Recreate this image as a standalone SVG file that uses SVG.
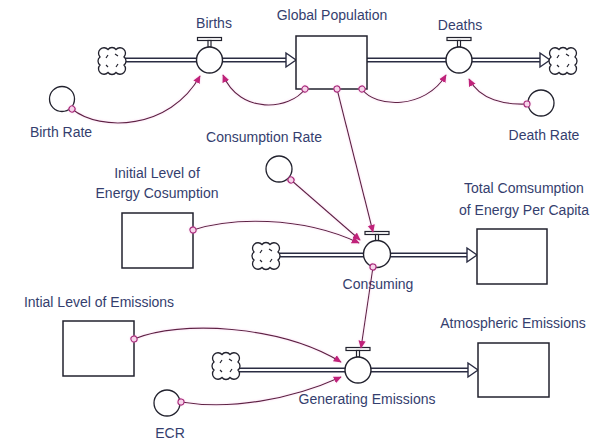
<svg xmlns="http://www.w3.org/2000/svg" xmlns:xlink="http://www.w3.org/1999/xlink" width="592" height="441" viewBox="0 0 592 441">
<style>
.lbl{font-family:"Liberation Sans",Arial,sans-serif;font-size:14px;fill:#343e6e;text-anchor:middle}
.stock{fill:#fff;stroke:#22222e;stroke-width:1.5}
.aux{fill:#fff;stroke:#22222e;stroke-width:1.3}
.valve{fill:#fff;stroke:#22222e;stroke-width:1.4}
.pipeo{stroke:#2a2c42;stroke-width:5;fill:none}
.pipei{stroke:#fff;stroke-width:2;fill:none}
.phead{fill:#fff;stroke:#2a2c42;stroke-width:1.4}
.link{fill:none;stroke:#5e2444;stroke-width:1.1;marker-start:url(#dot);marker-end:url(#arr)}
.cl{fill:#fff;stroke:#22222e;stroke-width:1.3}
</style>
<defs>
<filter id="glow" x="-10%" y="-10%" width="120%" height="120%">
<feGaussianBlur in="SourceAlpha" stdDeviation="1.2" result="b"/>
<feFlood flood-color="#f38ad4" flood-opacity="0.4"/>
<feComposite in2="b" operator="in" result="g"/>
<feMerge><feMergeNode in="g"/><feMergeNode in="SourceGraphic"/></feMerge>
</filter>
<marker id="arr" viewBox="0 0 10 10" refX="9" refY="5" markerWidth="8" markerHeight="8" markerUnits="userSpaceOnUse" orient="auto"><path d="M0,0.5 L10,5 L0,9.5 Z" fill="#c0207a"/></marker>
<marker id="dot" viewBox="0 0 10 10" refX="5" refY="5" markerWidth="8" markerHeight="8" markerUnits="userSpaceOnUse" orient="auto"><circle cx="5" cy="5" r="3.8" fill="#f6d4ea" stroke="#a8287a" stroke-width="1.4"/></marker>
<g id="cloud">
<path class="cl" d="M-12,-4 A5,5 0 0 1 -4,-11.5 A5,5 0 0 1 4,-11.5 A5,5 0 0 1 12,-4 A5,5 0 0 1 12,4 A5,5 0 0 1 4,11.5 A5,5 0 0 1 -4,11.5 A5,5 0 0 1 -12,4 A5,5 0 0 1 -12,-4 Z"/>
<path d="M-6,-3 l2,-3 M3,-7 l3,2 M6,3 l-2,3 M-4,6 l-2,-2" stroke="#22222e" stroke-width="1.2" fill="none"/>
</g>
<g id="valvebar">
<rect x="-12" y="-22.5" width="24" height="3" fill="#fff" stroke="#22222e" stroke-width="1.2"/>
<rect x="-1.5" y="-19.5" width="3" height="6.5" fill="#fff" stroke="#22222e" stroke-width="1.2"/>
</g>
</defs>
<rect width="592" height="441" fill="#fff"/>

<g id="pipes">
<path class="pipeo" d="M124,60 H197 M222,60 H287 M367,60 H446 M472,60 H541"/>
<path class="pipei" d="M124,60 H197 M222,60 H287 M367,60 H446 M472,60 H541"/>
<polygon class="phead" points="286,53 296,60 286,67"/>
<polygon class="phead" points="540,53 550,60 540,67"/>
<path class="pipeo" d="M278,255 H364 M390,255 H468"/>
<path class="pipei" d="M278,255 H364 M390,255 H468"/>
<polygon class="phead" points="467,248 477,255 467,262"/>
<path class="pipeo" d="M237,370 H345 M371,370 H469"/>
<path class="pipei" d="M237,370 H345 M371,370 H469"/>
<polygon class="phead" points="468,363 478,370 468,377"/>
</g>

<g id="cloud-births"><use href="#cloud" x="112" y="61"/></g>
<g id="cloud-deaths"><use href="#cloud" x="563" y="61"/></g>
<g id="cloud-consuming"><use href="#cloud" x="266" y="256"/></g>
<g id="cloud-emissions"><use href="#cloud" x="226" y="366"/></g>

<g id="births">
<use href="#valvebar" x="209.5" y="60"/>
<circle class="valve" cx="209.5" cy="60" r="13"/>
<text class="lbl" x="214" y="28">Births</text>
</g>
<g id="global-population">
<rect class="stock" x="296" y="36" width="71" height="53"/>
<text class="lbl" x="332" y="20">Global Population</text>
</g>
<g id="deaths">
<use href="#valvebar" x="459" y="60"/>
<circle class="valve" cx="459" cy="60" r="13"/>
<text class="lbl" x="460" y="30">Deaths</text>
</g>
<g id="birth-rate">
<circle class="aux" cx="62" cy="99" r="12.5"/>
<text class="lbl" x="61" y="137">Birth Rate</text>
</g>
<g id="death-rate">
<circle class="aux" cx="541" cy="103" r="13"/>
<text class="lbl" x="544" y="140">Death Rate</text>
</g>
<g id="consumption-rate">
<circle class="aux" cx="279" cy="169" r="13"/>
<text class="lbl" x="264" y="142">Consumption Rate</text>
</g>
<g id="initial-energy">
<rect class="stock" x="122" y="213" width="71" height="55"/>
<text class="lbl" x="157" y="178">Initial Level of</text>
<text class="lbl" x="157" y="198">Energy Cosumption</text>
</g>
<g id="consuming">
<use href="#valvebar" x="377" y="254"/>
<circle class="valve" cx="377" cy="254" r="13.5"/>
<text class="lbl" x="378" y="289">Consuming</text>
</g>
<g id="total-consumption">
<rect class="stock" x="477" y="229" width="70" height="55"/>
<text class="lbl" x="524" y="193">Total Comsumption</text>
<text class="lbl" x="524" y="215">of Energy Per Capita</text>
</g>
<g id="initial-emissions">
<rect class="stock" x="63" y="321" width="71" height="55"/>
<text class="lbl" x="99" y="307">Intial Level of Emissions</text>
</g>
<g id="generating-emissions">
<use href="#valvebar" x="358" y="370"/>
<circle class="valve" cx="358" cy="370" r="13"/>
<text class="lbl" x="367" y="404">Generating Emissions</text>
</g>
<g id="atmospheric-emissions">
<rect class="stock" x="478" y="343" width="71" height="54"/>
<text class="lbl" x="513" y="328">Atmospheric Emissions</text>
</g>
<g id="ecr">
<circle class="aux" cx="167" cy="403" r="13"/>
<text class="lbl" x="170" y="438">ECR</text>
</g>

<g id="connectors" filter="url(#glow)">
<path class="link" d="M72,109 C100,132 170,130 200,76"/>
<path class="link" d="M305,89 C290,110 240,115 223,75"/>
<path class="link" d="M362,89 C375,108 425,110 446,75"/>
<path class="link" d="M527,104 C505,105 480,100 469,79"/>
<path class="link" d="M337,89 L373,232"/>
<path class="link" d="M291,180 L360,240"/>
<path class="link" d="M193,230 C230,218 300,215 359,243"/>
<path class="link" d="M373,267 L361,348"/>
<path class="link" d="M134,339 C180,320 280,325 341,362"/>
<path class="link" d="M181,402 C230,410 290,400 341,377"/>
</g>
</svg>
